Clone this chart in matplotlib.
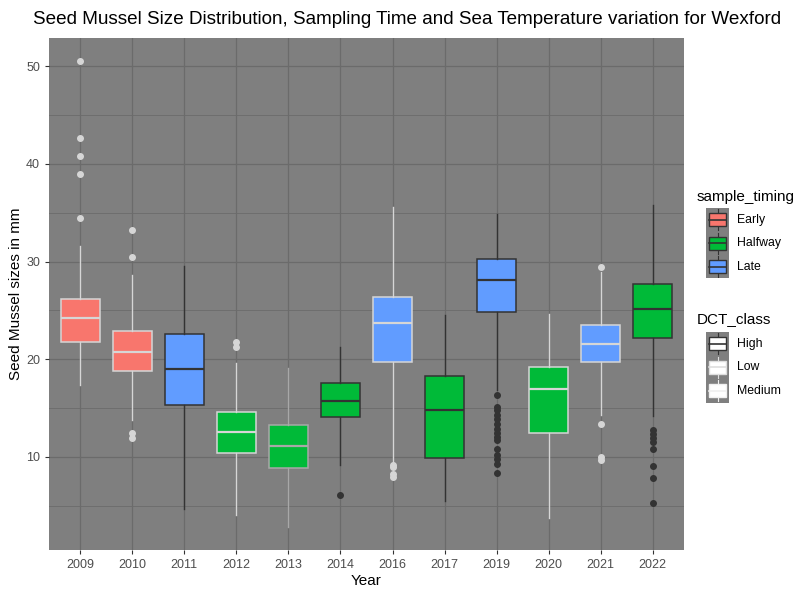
import matplotlib
matplotlib.use("Agg")
import matplotlib.pyplot as plt
from matplotlib.patches import Rectangle

plt.rcParams['font.family'] = ['Liberation Sans', 'DejaVu Sans']

years = ['2009', '2010', '2011', '2012', '2013', '2014', '2016', '2017', '2019', '2020', '2021', '2022']
timing = ['Early', 'Early', 'Late', 'Halfway', 'Halfway', 'Halfway', 'Late', 'Halfway', 'Late', 'Halfway', 'Late', 'Halfway']
dct = ['Medium', 'Medium', 'High', 'Medium', 'Low', 'High', 'Medium', 'High', 'High', 'Medium', 'Medium', 'High']

q1 = [21.75, 18.8, 15.3, 10.35, 8.9, 14.1, 19.67, 9.84, 24.8, 12.42, 19.67, 22.2]
med = [24.17, 20.77, 19.0, 12.55, 11.1, 15.7, 23.7, 14.84, 28.15, 16.9, 21.54, 25.1]
q3 = [26.18, 22.9, 22.6, 14.6, 13.24, 17.6, 26.4, 18.27, 30.27, 19.23, 23.55, 27.74]
whislo = [17.35, 13.8, 4.66, 4.1, 2.85, 9.15, 9.5, 5.47, 16.85, 3.77, 14.3, 14.2]
whishi = [31.55, 28.6, 29.55, 19.57, 19.1, 21.3, 35.6, 24.55, 34.9, 24.6, 28.9, 35.74]
fliers = [
    [50.5, 42.66, 40.8, 38.98, 34.45],
    [33.2, 30.5, 12.4, 11.9],
    [],
    [21.8, 21.3],
    [],
    [6.06],
    [9.2, 9.0, 8.2, 7.9],
    [],
    [16.3, 15.14, 14.77, 14.3, 13.88, 13.37, 12.86, 12.45, 12.0, 11.7, 10.77, 10.2, 9.8, 9.26, 8.3],
    [],
    [29.45, 13.37, 9.94, 9.7],
    [12.76, 12.35, 11.9, 11.5, 10.8, 9.1, 7.8, 5.3],
]

fill_colors = {'Early': '#F8766D', 'Halfway': '#00BA38', 'Late': '#619CFF'}
line_colors = {'High': '#333333', 'Low': '#a8a8a8', 'Medium': '#d6d6d6'}
legend_line_colors = {'High': '#333333', 'Low': '#dedede', 'Medium': '#f0f0f0'}

fig = plt.figure(figsize=(8.07, 5.90), dpi=100)
ax = fig.add_axes([49 / 807, 1 - 550 / 590, 635 / 807, 512 / 590])
ax.set_facecolor('#7f7f7f')

for i in range(len(years)):
    stats = [{'q1': q1[i], 'med': med[i], 'q3': q3[i], 'whislo': whislo[i],
              'whishi': whishi[i], 'fliers': fliers[i]}]
    lc = line_colors[dct[i]]
    ax.bxp(stats, positions=[i], widths=0.75, patch_artist=True, showcaps=False,
           boxprops=dict(facecolor=fill_colors[timing[i]], edgecolor=lc, linewidth=1.1),
           medianprops=dict(color=lc, linewidth=1.6),
           whiskerprops=dict(color=lc, linewidth=1.0),
           flierprops=dict(marker='o', markerfacecolor=lc, markeredgecolor=lc, markersize=4),
           zorder=3)

lo = min(whislo + [v for f in fliers for v in f])
hi = max(whishi + [v for f in fliers for v in f])
pad = (hi - lo) * 0.05
ax.set_ylim(lo - pad, hi + pad)
ax.set_xlim(-0.6, len(years) - 0.4)
ax.set_xticks(range(len(years)))
ax.set_xticklabels(years)
ax.set_yticks([10, 20, 30, 40, 50])
ax.set_yticks([5, 15, 25, 35, 45], minor=True)
ax.grid(True, which='major', color='#6b6b6b', linewidth=0.9, zorder=0)
ax.grid(True, which='minor', axis='y', color='#6b6b6b', linewidth=0.6, zorder=0)
ax.set_axisbelow(True)
for s in ax.spines.values():
    s.set_visible(False)
ax.tick_params(axis='both', which='major', colors='#333333', labelcolor='#4d4d4d',
               labelsize=9, length=3, width=0.8)
ax.tick_params(axis='y', which='minor', length=0)
ax.set_xlabel('Year', fontsize=11, labelpad=2)
ax.set_ylabel('Seed Mussel sizes in mm', fontsize=11, labelpad=2)
fig.text(33 / 807, 1 - 20 / 590,
         'Seed Mussel Size Distribution, Sampling Time and Sea Temperature variation for Wexford',
         fontsize=13.6, ha='left', va='center')


def legend_block(title, labels, fills, edges, top, title_y):
    fig.text(697 / 807, 1 - title_y / 590, title, fontsize=11, va='center', ha='left')
    n = len(labels)
    kh = 23.5
    lax = fig.add_axes([706 / 807, 1 - (top + kh * n) / 590, 23 / 807, kh * n / 590])
    lax.set_facecolor('#7f7f7f')
    lax.set_xlim(0, 1)
    lax.set_ylim(0, n)
    lax.set_xticks([])
    lax.set_yticks([])
    for s in lax.spines.values():
        s.set_visible(False)
    for k in range(n):
        yc = n - k - 0.5
        lax.plot([0.5, 0.5], [yc - 0.45, yc + 0.45], color=edges[k], linewidth=0.8)
        lax.add_patch(Rectangle((0.12, yc - 0.27), 0.76, 0.54, facecolor=fills[k],
                                edgecolor=edges[k], linewidth=1.0, zorder=3))
        lax.plot([0.12, 0.88], [yc, yc], color=edges[k], linewidth=1.2, zorder=4)
        fig.text(737 / 807, 1 - (top + kh * k + kh / 2) / 590, labels[k],
                 fontsize=8.8, va='center', ha='left')


t_labels = ['Early', 'Halfway', 'Late']
legend_block('sample_timing', t_labels, [fill_colors[t] for t in t_labels],
             ['#333333'] * 3, 208, 197)
d_labels = ['High', 'Low', 'Medium']
legend_block('DCT_class', d_labels, ['white'] * 3,
             [legend_line_colors[d] for d in d_labels], 332, 319)

fig.savefig('out.png', dpi=100)
